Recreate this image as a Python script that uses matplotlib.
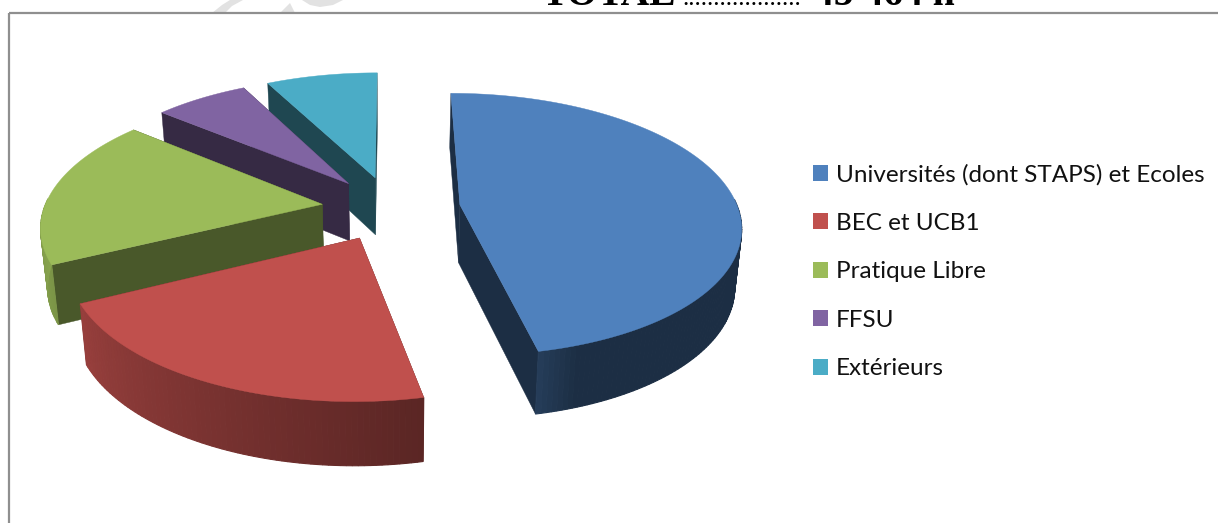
import numpy as np
import matplotlib
matplotlib.use("Agg")
import matplotlib.pyplot as plt
from matplotlib.patches import Polygon, Patch
from matplotlib.colors import to_rgb

categories = ["Universités (dont STAPS) et Ecoles", "BEC et UCB1", "Pratique Libre", "FFSU", "Extérieurs"]
values = [46.7, 21.0, 18.3, 6.4, 7.6]
colors = ["#4F81BD", "#C0504D", "#9BBB59", "#8064A2", "#4BACC6"]
wall_shades = [0.36, 0.47, 0.47, 0.42, 0.41]
title_parts = ["TOTAL", "...................", "45 464 h"]

W, H = 1218, 523
CX, CY = 391, 208
RX, RY = 278, 129
PERSP = 0.15
EXPLODE = 0.25
DEPTH = 58
BOTTOM_SCALE = 0.98
SHADE_T = [90, 161, 168, 246, 270, 360]
SHADE_F = [0.36, 0.36, 0.47, 0.80, 0.88, 0.9]

fig = plt.figure(figsize=(W / 100, H / 100), dpi=100)
ax = fig.add_axes([0, 0, 1, 1])
ax.set_xlim(0, W)
ax.set_ylim(H, 0)
ax.axis("off")


def project(x, y, bottom=False):
    p = 1 / (1 + PERSP * y)
    sx = RX * x * p
    sy = -RY * y * p
    if bottom:
        return CX + sx * BOTTOM_SCALE, CY + sy + DEPTH * np.sqrt(p)
    return CX + sx, CY + sy


def shade(c, f):
    return tuple(min(1, v * f) for v in to_rgb(c))


# watermark fragments and frame
for frag in ([(212, 13), (222, 5), (230, 0), (243, 0), (232, 6), (225, 13)],
             [(280, 13), (290, 3), (295, 13)],
             [(302, 0), (343, 0), (333, 5), (320, 7), (310, 5)]):
    ax.add_patch(Polygon(frag, closed=True, fc="#e2e2e2", ec="none", zorder=0))
ax.plot([9, 9], [H, 13], color="#8f8f8f", lw=1.6, zorder=1, solid_capstyle="butt")
ax.plot([9, W], [13, 13], color="#8f8f8f", lw=1.6, zorder=1, solid_capstyle="butt")

# pie slices
fr = np.array(values) / sum(values) * 360
ends = np.cumsum(fr)
starts = ends - fr
order = [4, 3, 2, 0, 1]
z = 2
for i in order:
    t0, t1 = starts[i], ends[i]
    mid = np.radians((t0 + t1) / 2)
    ox, oy = EXPLODE * np.sin(mid), EXPLODE * np.cos(mid)
    th = np.radians(np.linspace(t0, t1, max(int(t1 - t0), 8)))
    xs, ys = ox + np.sin(th), oy + np.cos(th)
    top = [project(a, b) for a, b in zip(xs, ys)]
    bot = [project(a, b, True) for a, b in zip(xs, ys)]
    apex_t = project(ox, oy)
    apex_b = project(ox, oy, True)
    wall = shade(colors[i], wall_shades[i])
    # radial walls
    ax.add_patch(Polygon([apex_t, top[0], bot[0], apex_b], fc=wall, ec=wall, lw=0.3, zorder=z))
    ax.add_patch(Polygon([apex_t, top[-1], bot[-1], apex_b], fc=wall, ec=wall, lw=0.3, zorder=z))
    # outer wall, only the part turned towards the viewer, shaded with angle
    degs = np.degrees(th)
    for k in range(len(th) - 1):
        m = (degs[k] + degs[k + 1]) / 2
        if np.cos(np.radians(m)) > 0.05:
            continue
        col = shade(colors[i], np.interp(m, SHADE_T, SHADE_F))
        ax.add_patch(Polygon([top[k], top[k + 1], bot[k + 1], bot[k]], fc=col, ec=col, lw=0.8, zorder=z))
    # top face
    ax.add_patch(Polygon([apex_t] + top, fc=colors[i], ec=colors[i], lw=0.3, zorder=z + 1))
    z += 2

# legend
handles = [Patch(fc=c, ec="none", label=l) for c, l in zip(colors, categories)]
ax.legend(handles=handles, loc="upper left", bbox_to_anchor=(813, 164), bbox_transform=ax.transData,
          frameon=False, prop={"family": "Lato", "size": 17.5}, borderpad=0, borderaxespad=0,
          handlelength=0.63, handleheight=0.63, handletextpad=0.3, labelspacing=1.13,
          labelcolor="#111111")

# title cut by the top edge
ax.text(541, 5, title_parts[0], family="Liberation Serif", weight="bold", fontsize=28.5, va="baseline", ha="left", color="black", clip_on=False)
ax.text(682, 5, title_parts[1], family="Liberation Serif", fontsize=18, va="baseline", ha="left", color="black", clip_on=False)
ax.text(955, 5, title_parts[2], family="Liberation Serif", weight="bold", fontsize=28.5, va="baseline", ha="right", color="black", clip_on=False)

fig.savefig("out.png", dpi=100)
